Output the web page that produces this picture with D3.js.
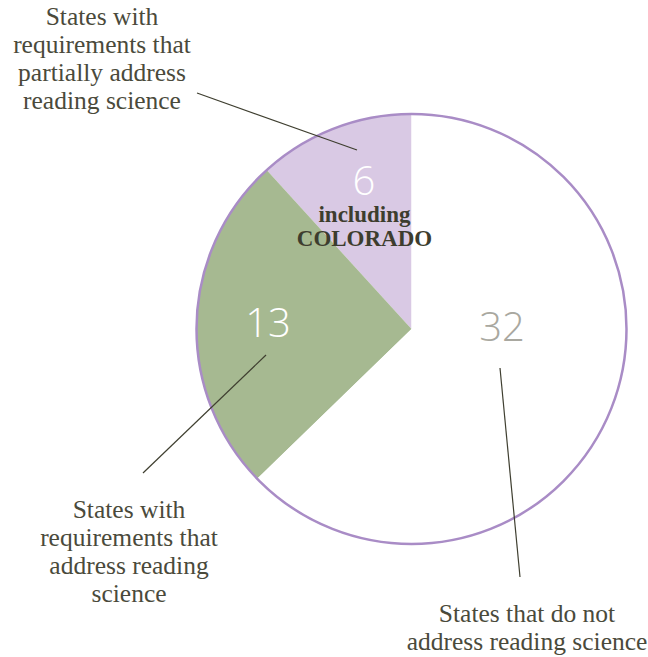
<!DOCTYPE html>
<html><head><meta charset="utf-8">
<script src="https://cdn.jsdelivr.net/npm/d3@7"></script>
<style>body{margin:0;background:#fff}svg{display:block}</style>
</head><body>
<svg id="c" width="648" height="657"></svg>
<script>
const categories = ["partially", "address", "notAddress"];
const values = [6, 13, 32];
const sliceColors = ["#d9c9e4", "#a6b991", "#ffffff"];
const numberColors = ["#ffffff", "#ffffff", "#a9a8a0"];
const labelLines = [
  ["States with", "requirements that", "partially address", "reading science"],
  ["States with", "requirements that", "address reading", "science"],
  ["States that do not", "address reading science"]
];
const noteLines = ["including", "COLORADO"];

const svg = d3.select("#c");
const cx = 411.5, cy = 329, r = 215;
const pie = d3.pie().sort(null).startAngle(0).endAngle(-2 * Math.PI).value(d => d);
const arcs = pie(values);
const arc = d3.arc().innerRadius(0).outerRadius(r);
const g = svg.append("g").attr("transform", `translate(${cx},${cy})`);
g.selectAll("path.s").data(arcs).join("path").attr("class", "s")
  .attr("d", arc).attr("fill", (d, i) => sliceColors[i]);
g.append("circle").attr("r", r).attr("fill", "none").attr("stroke", "#a98cc6").attr("stroke-width", 2.5);

// leader lines
const leaders = [[197, 93, 357, 150], [143, 473, 266, 355], [500, 368, 520, 577]];
svg.selectAll("line.l").data(leaders).join("line").attr("class", "l")
  .attr("x1", d => d[0]).attr("y1", d => d[1]).attr("x2", d => d[2]).attr("y2", d => d[3])
  .attr("stroke", "#3f3f30").attr("stroke-width", 1.2);

// numbers
const numPos = [[364, 195], [268, 337], [502, 341]];
svg.selectAll("text.n").data(values).join("text").attr("class", "n")
  .attr("x", (d, i) => numPos[i][0]).attr("y", (d, i) => numPos[i][1])
  .attr("text-anchor", "middle").attr("font-family", "'Open Sans', sans-serif")
  .attr("font-weight", 300).attr("font-size", 40)
  .attr("fill", (d, i) => numberColors[i]).text(d => d);

// note
const serif = "'Liberation Serif', 'DejaVu Serif', serif";
noteLines.forEach((s, j) => {
  svg.append("text").attr("x", 364.5).attr("y", 222 + j * 24).attr("text-anchor", "middle")
    .attr("font-family", serif).attr("font-weight", "bold").attr("font-size", 23)
    .attr("fill", "#3d3d2e").text(s);
});

// labels
const labelPos = [[102, 25], [129, 518], [527, 622]];
labelLines.forEach((lines, i) => {
  const t = svg.append("text").attr("text-anchor", "middle")
    .attr("font-family", serif).attr("font-size", 25.5).attr("fill", "#4a4a3b");
  lines.forEach((s, j) => {
    t.append("tspan").attr("x", labelPos[i][0]).attr("y", labelPos[i][1] + j * 28).text(s);
  });
});
</script>
</body></html>
